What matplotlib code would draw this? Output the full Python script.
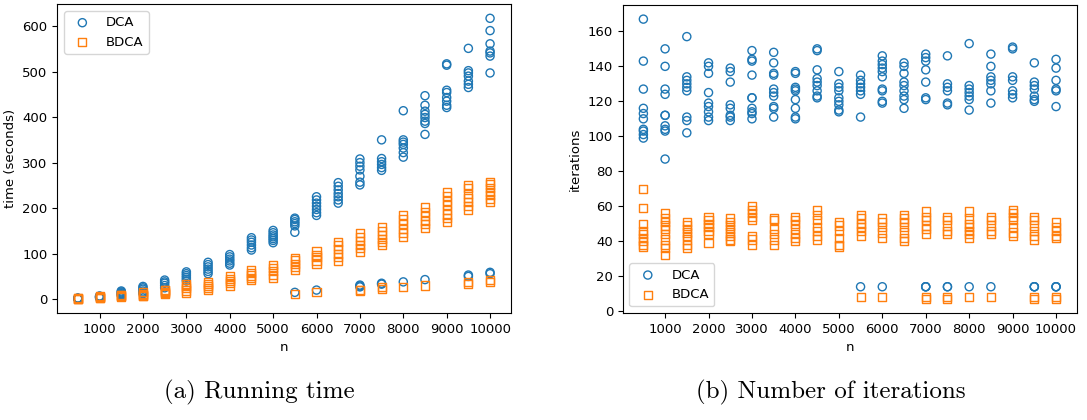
import matplotlib
matplotlib.use("Agg")
import matplotlib.pyplot as plt

n_values = [500, 1000, 1500, 2000, 2500, 3000, 3500, 4000, 4500, 5000,
            5500, 6000, 6500, 7000, 7500, 8000, 8500, 9000, 9500, 10000]

dca_time = [
    [0.8, 1.2, 1.5, 2.0, 2.5],
    [3, 4, 5, 6, 7],
    [8, 10, 12, 14, 16, 18],
    [12, 15, 18, 22, 25, 28],
    [25, 30, 35, 38, 42],
    [40, 44, 48, 52, 56, 60],
    [56, 61, 66, 71, 76, 81],
    [75, 79, 84, 88, 93, 98],
    [108, 113, 119, 125, 130, 135],
    [124, 129, 133, 137, 141, 146, 151],
    [15, 147, 161, 166, 170, 175, 178],
    [20, 184, 190, 197, 204, 211, 218, 225],
    [211, 218, 225, 232, 240, 248, 256],
    [27, 29, 31, 251, 257, 270, 284, 292, 300, 308],
    [33, 35, 283, 289, 296, 302, 309, 350],
    [38, 312, 322, 332, 340, 345, 350, 414],
    [43, 362, 386, 391, 399, 406, 413, 426, 447],
    [421, 426, 435, 443, 454, 459, 514, 517],
    [50, 53, 465, 472, 479, 490, 497, 502, 551],
    [56, 59, 497, 534, 541, 545, 561, 590, 617],
]

bdca_time = [
    [0.5, 1, 1.5, 2],
    [2, 3, 4, 5, 6],
    [4, 6, 8, 10],
    [6, 8, 10, 12, 15],
    [11, 13, 16, 19, 21],
    [14, 19, 24, 29, 34],
    [20, 24, 28, 33, 38],
    [30, 35, 40, 45, 50],
    [42, 47, 52, 57, 63],
    [47, 54, 61, 68, 75],
    [11, 64, 70, 78, 85, 91],
    [16, 78, 85, 92, 98, 105],
    [84, 92, 100, 110, 118, 126],
    [19, 21, 104, 112, 120, 128, 136, 146],
    [23, 26, 119, 125, 132, 140, 150, 158],
    [27, 136, 145, 155, 165, 175, 185],
    [30, 157, 165, 172, 182, 192, 202],
    [170, 178, 186, 196, 206, 216, 226, 236],
    [34, 37, 197, 205, 213, 222, 232, 244, 250],
    [38, 42, 214, 220, 228, 236, 245, 252, 258],
]

dca_iter = [
    [167, 143, 127, 116, 113, 110, 104, 103, 101, 99],
    [150, 140, 127, 124, 112, 112, 106, 104, 103, 87],
    [157, 134, 132, 130, 128, 126, 111, 109, 102],
    [142, 140, 136, 125, 119, 117, 114, 111, 109],
    [139, 137, 131, 118, 116, 112, 111, 109],
    [149, 144, 143, 135, 122, 122, 116, 114, 113, 110],
    [148, 142, 136, 135, 127, 125, 123, 117, 116, 111],
    [137, 136, 128, 127, 126, 121, 116, 111, 110],
    [150, 149, 138, 133, 131, 129, 126, 123, 122],
    [137, 130, 128, 126, 122, 120, 118, 115, 114],
    [14, 111, 124, 126, 128, 130, 132, 135],
    [14, 146, 143, 141, 139, 137, 134, 127, 126, 120, 119],
    [142, 140, 136, 131, 129, 126, 123, 121, 116],
    [14, 14, 14, 147, 145, 143, 138, 131, 122, 121],
    [14, 14, 146, 130, 128, 126, 119, 118],
    [14, 153, 129, 127, 125, 123, 121, 115],
    [14, 147, 140, 134, 132, 130, 126, 119],
    [151, 150, 134, 132, 126, 124, 122],
    [14, 14, 14, 142, 131, 129, 127, 123, 121, 120],
    [14, 14, 14, 144, 139, 132, 127, 126, 117],
]

bdca_iter = [
    [70, 59, 50, 46, 44, 42, 40, 38, 37],
    [56, 53, 51, 49, 47, 44, 41, 38, 36, 32],
    [51, 49, 47, 45, 43, 41, 38, 36],
    [54, 52, 50, 48, 46, 44, 39],
    [53, 51, 49, 47, 45, 43, 41, 40],
    [60, 58, 56, 54, 52, 43, 41, 38],
    [53, 52, 47, 44, 41, 38],
    [54, 52, 50, 47, 44, 42, 40],
    [58, 55, 52, 48, 46, 43, 41],
    [51, 49, 46, 42, 38, 37],
    [8, 55, 53, 50, 48, 46, 43],
    [8, 53, 51, 48, 45, 42],
    [55, 53, 51, 48, 45, 42, 40],
    [7, 8, 57, 54, 52, 49, 47, 44],
    [7, 8, 54, 52, 49, 46, 44],
    [8, 57, 53, 50, 48, 46, 44, 42],
    [8, 54, 52, 49, 46, 44],
    [58, 56, 54, 52, 48, 45, 43],
    [7, 8, 54, 52, 49, 46, 43, 41],
    [7, 8, 51, 48, 46, 43, 42],
]

x_ticks = [1000, 2000, 3000, 4000, 5000, 6000, 7000, 8000, 9000, 10000]
series_labels = ["DCA", "BDCA"]
captions = ["(a) Running time", "(b) Number of iterations"]


def flatten(groups):
    xs, ys = [], []
    for n, vals in zip(n_values, groups):
        xs.extend([n] * len(vals))
        ys.extend(vals)
    return xs, ys


FS = 9.5
fig = plt.figure(figsize=(10.87, 4.2), dpi=100)
ax1 = fig.add_axes([0.0527, 0.2548, 0.4171, 0.735])
ax2 = fig.add_axes([0.5729, 0.2548, 0.4176, 0.733])

for ax, (d, b), ylabel, legloc in [
    (ax1, (dca_time, bdca_time), "time (seconds)", "upper left"),
    (ax2, (dca_iter, bdca_iter), "iterations", "lower left"),
]:
    x, y = flatten(d)
    ax.scatter(x, y, marker="o", facecolors="none", edgecolors="C0", s=34,
               linewidths=1.0, label=series_labels[0])
    x, y = flatten(b)
    ax.scatter(x, y, marker="s", facecolors="none", edgecolors="C1", s=34,
               linewidths=1.0, label=series_labels[1])
    ax.set_xticks(x_ticks)
    ax.tick_params(labelsize=FS)
    ax.set_xlabel("n", fontsize=FS)
    ax.set_ylabel(ylabel, fontsize=FS)
    ax.legend(loc=legloc, fontsize=FS)

fig.text(0.239, 0.065, captions[0], fontfamily="cmr10", fontsize=18,
         ha="center", va="center")
fig.text(0.764, 0.065, captions[1], fontfamily="cmr10", fontsize=18,
         ha="center", va="center")

fig.savefig("out.png", dpi=100)
